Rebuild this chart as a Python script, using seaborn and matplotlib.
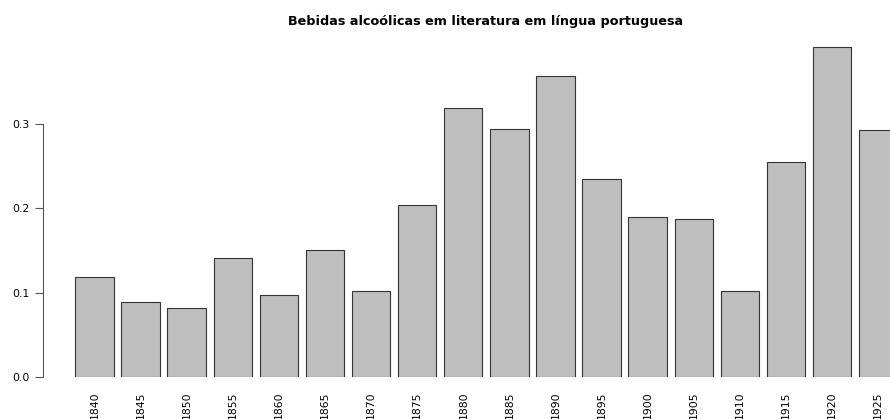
import pandas as pd
import numpy as np
import matplotlib
matplotlib.use("Agg")
import matplotlib.pyplot as plt
import seaborn as sns

# Data
years = ["1840", "1845", "1850", "1855", "1860", "1865", "1870", "1875", "1880",
         "1885", "1890", "1895", "1900", "1905", "1910", "1915", "1920", "1925"]
values = [0.1186, 0.0889, 0.0818, 0.1413, 0.0972, 0.1510, 0.1020, 0.2040, 0.3190,
          0.2940, 0.3565, 0.2350, 0.1895, 0.1875, 0.1020, 0.2555, 0.3910, 0.2925]
yticks = [0.0, 0.1, 0.2, 0.3]

df = pd.DataFrame({"year": years, "value": values})

sns.set_style("white")
plt.rcParams["font.family"] = ["DejaVu Sans"]
plt.rcParams["text.color"] = "black"
plt.rcParams["xtick.color"] = "black"
plt.rcParams["ytick.color"] = "black"

fig = plt.figure(figsize=(8.9, 4.19), dpi=100)
ax = fig.add_axes([43 / 890, 42 / 419, 847 / 890, 337.3 / 419])

sns.barplot(data=df, x="year", y="value", order=years, color="#BEBEBE",
            saturation=1, width=0.833, edgecolor="#333333", linewidth=0.8, ax=ax)

ax.set_xlim(-1.117, 17.256)
ax.set_ylim(0, 0.4)
ax.set_yticks(yticks)
ax.set_yticklabels([f"{t:.1f}" for t in yticks])
ax.set_xlabel("")
ax.set_ylabel("")

for s in ["top", "right", "bottom"]:
    ax.spines[s].set_visible(False)
ax.spines["left"].set_bounds(0, 0.3)
ax.spines["left"].set_color("#555555")
ax.spines["left"].set_linewidth(0.8)

ax.tick_params(axis="y", length=5.8, width=0.8, color="#555555", labelcolor="black",
               labelsize=7.8, pad=3.6, direction="out", left=True)
ax.tick_params(axis="x", length=0, labelsize=7.8, labelcolor="black", pad=10.5, labelrotation=90)
for lbl in ax.get_xticklabels():
    lbl.set_va("top")

fig.text(486 / 890, 1 - 22 / 419, "Bebidas alcoólicas em literatura em língua portuguesa",
         ha="center", va="center", fontsize=9.2, fontweight="bold", color="black")

fig.savefig("out.png", dpi=100)
